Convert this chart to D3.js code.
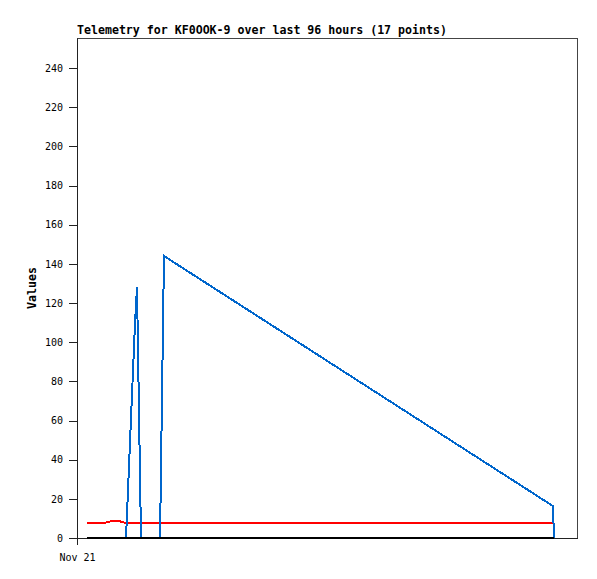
<!DOCTYPE html>
<html><head><meta charset="utf-8">
<script src="https://cdn.jsdelivr.net/npm/d3@7"></script>
<style>
body{margin:0;background:#fff;}
svg{display:block;}
</style></head>
<body>
<script>
// Data (hours after Nov 21 00:00)
const hours   = [1.92, 5.4, 6.1, 7.0, 7.9, 8.6, 9.41, 11.14, 11.52, 12.29, 15.94, 16.70, 91.39, 91.58];
const blueVals  = [0, 0, 0, 0, 0, 0, 0, 110, 128, 0, 0, 144, 16.3, 0];
const redVals   = [7.8, 7.8, 8.3, 8.9, 8.9, 8.1, 7.8, 7.8, 7.8, 7.8, 7.8, 7.8, 7.8, 7.8];
const blackVals = [0, 0, 0, 0, 0, 0, 0, 0, 0, 0, 0, 0, 0, 0];
const yTicks = [0,20,40,60,80,100,120,140,160,180,200,220,240];
const titleText = "Telemetry for KF0OOK-9 over last 96 hours (17 points)";
const yLabel = "Values";
const start = new Date(2024, 10, 21, 0, 0, 0);
const xTickDates = [new Date(2024, 10, 21)];

const W = 597, H = 579;
const L = 77, R = 577, T = 38, B = 538;
const svg = d3.select("body").append("svg").attr("width", W).attr("height", H);

const x = d3.scaleTime().domain([start, d3.timeHour.offset(start, 96)]).range([L, R]);
const y = d3.scaleLinear().domain([0, 255.32]).range([B, T]);

const toDate = h => new Date(start.getTime() + h * 3600000);

// frame
svg.append("path").attr("d", `M${L},${B}V${T+0.5}H${R+0.5}V${B}`).attr("fill","none")
  .attr("stroke","#444").attr("stroke-width",1).attr("shape-rendering","crispEdges");

// y axis
const yAxis = d3.axisLeft(y).tickValues(yTicks).tickSize(8).tickSizeOuter(0).tickPadding(6);
const gy = svg.append("g").attr("transform", `translate(${L},0)`).call(yAxis);
gy.select(".domain").attr("stroke","#222");
gy.selectAll(".tick line").attr("stroke","#222").attr("shape-rendering","crispEdges");
gy.selectAll("text").attr("font-family","'DejaVu Sans Mono', monospace").attr("font-size","10px").attr("fill","#000");

// x axis
const xAxis = d3.axisBottom(x).tickValues(xTickDates).tickFormat(d3.timeFormat("%b %d")).tickSize(7).tickSizeOuter(0).tickPadding(9);
const gx = svg.append("g").attr("transform", `translate(0,${B})`).call(xAxis);
gx.select(".domain").attr("stroke","#222").attr("shape-rendering","crispEdges");
gx.selectAll(".tick line").attr("stroke","#222").attr("shape-rendering","crispEdges");
gx.selectAll("text").attr("font-family","'DejaVu Sans Mono', monospace").attr("font-size","10px").attr("fill","#000");

// lines
const line = vals => d3.line().x((d,i)=>x(toDate(hours[i]))).y(d=>y(d))(vals);
svg.append("path").attr("d", line(redVals)).attr("fill","none").attr("stroke","#ff0000").attr("stroke-width",2).attr("shape-rendering","crispEdges");
svg.append("path").attr("d", line(blueVals)).attr("fill","none").attr("stroke","#0066cc").attr("stroke-width",2).attr("shape-rendering","crispEdges");
svg.append("path").attr("d", line(blackVals)).attr("fill","none").attr("stroke","#000").attr("stroke-width",2).attr("shape-rendering","crispEdges");

// title
svg.append("text").attr("x", L).attr("y", 34).text(titleText)
  .attr("font-family","'DejaVu Sans Mono', monospace").attr("font-weight","bold").attr("font-size","11.6px").attr("fill","#000");

// y label
svg.append("text").attr("transform", `translate(36,${(T+B)/2}) rotate(-90)`).attr("text-anchor","middle").text(yLabel)
  .attr("font-family","'DejaVu Sans Mono', monospace").attr("font-weight","bold").attr("font-size","11.6px").attr("fill","#000");
</script>
</body></html>
